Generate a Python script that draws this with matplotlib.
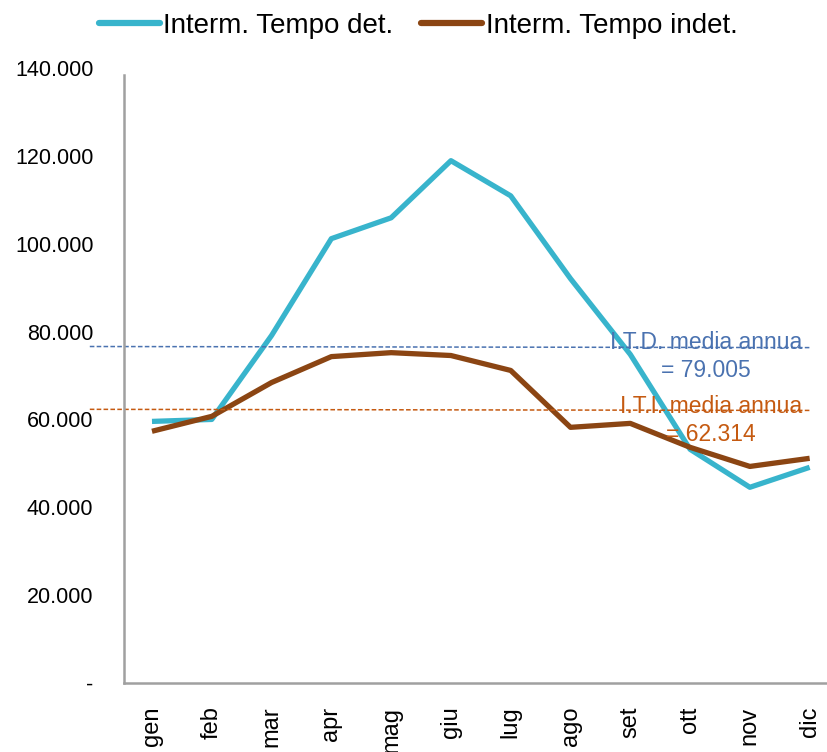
import matplotlib.pyplot as plt
from matplotlib.ticker import FuncFormatter

plt.rcParams['font.family'] = ['Liberation Sans', 'DejaVu Sans']

months = ['gen', 'feb', 'mar', 'apr', 'mag', 'giu', 'lug', 'ago', 'set', 'ott', 'nov', 'dic']
tempo_det = [59550, 60000, 79100, 101150, 105900, 118900, 110900, 92050, 74800, 53200, 44550, 49100]
tempo_indet = [57300, 60700, 68400, 74300, 75200, 74550, 71150, 58200, 59100, 53650, 49300, 51150]
# yearly means (label) and the level at which the dashed marker is drawn
mean_labels = ['I.T.D. media annua\n= 79.005', 'I.T.I. media annua\n= 62.314']
mean_levels = [76600, 62300]
yticks = [0, 20000, 40000, 60000, 80000, 100000, 120000, 140000]

TEAL = '#38b4cc'
BROWN = '#8b4513'
BLUE = '#4a72b0'
ORANGE = '#c55a11'

fig = plt.figure(figsize=(8.27, 7.52), dpi=100)
ax = fig.add_axes([124 / 827, 1 - 683 / 752, 703 / 827, 615 / 752])

x = list(range(len(months)))
ax.plot(x, tempo_det, color=TEAL, lw=3.8, label='Interm. Tempo det.', solid_capstyle='butt')
ax.plot(x, tempo_indet, color=BROWN, lw=3.8, label='Interm. Tempo indet.', solid_capstyle='butt')

ax.set_xlim(-0.468, 11.29)
ax.set_ylim(0, 140000)

# dashed mean markers, reaching left past the axis
for lvl, col in zip(mean_levels, [BLUE, ORANGE]):
    ax.plot([-1.04, 11.0], [lvl, lvl - 250], color=col, lw=1.1, ls=(0, (3, 1.5)), clip_on=False)

ax.text(9.26, 74300, mean_labels[0], color=BLUE, fontsize=16.5, ha='center', va='center',
        linespacing=1.3)
ax.text(9.35, 59800, mean_labels[1], color=ORANGE, fontsize=16.5, ha='center', va='center',
        linespacing=1.3)

ax.set_xticks(x)
ax.set_xticklabels(months, rotation=90, fontsize=17)
ax.set_yticks(yticks)
ax.yaxis.set_major_formatter(FuncFormatter(
    lambda v, p: '-' if v == 0 else f'{int(v):,}'.replace(',', '.')))
ax.tick_params(axis='y', length=0, pad=22, labelsize=15.5)
ax.tick_params(axis='x', length=0, pad=17)

for s in ['top', 'right']:
    ax.spines[s].set_visible(False)
for s in ['left', 'bottom']:
    ax.spines[s].set_color('#a0a0a0')
    ax.spines[s].set_linewidth(1.8)
ax.spines['left'].set_bounds(0, 138500)

leg = fig.legend(loc='center', bbox_to_anchor=(418 / 827, 1 - 26 / 752), ncol=2, frameon=False,
                 fontsize=20, handlelength=2.2, handletextpad=0.12, columnspacing=1.0,
                 borderpad=0)
for h in leg.get_lines():
    h.set_linewidth(4.5)
    h.set_solid_capstyle('round')

fig.savefig('out.png', dpi=100)
